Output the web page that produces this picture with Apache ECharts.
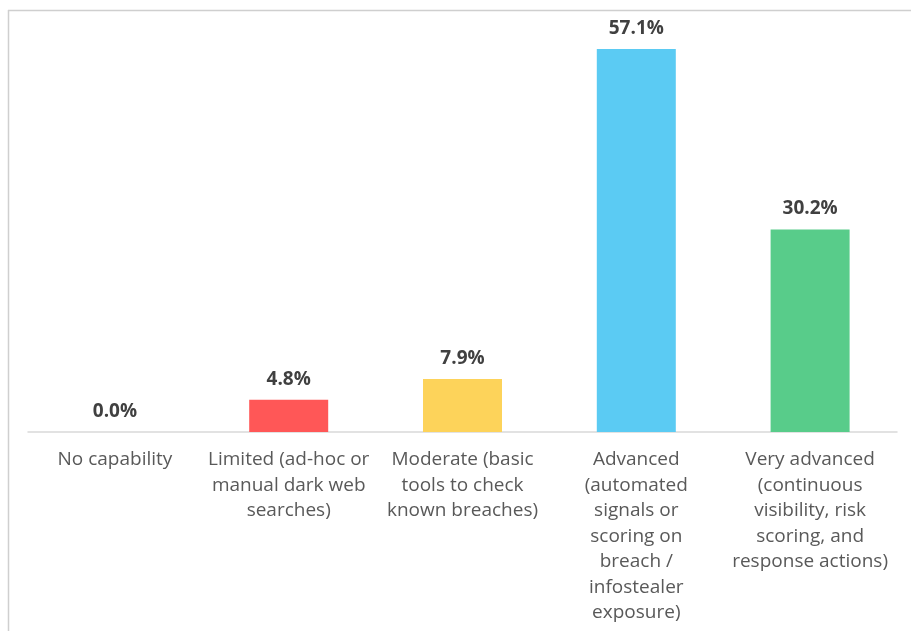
<!DOCTYPE html>
<html>
<head>
<meta charset="utf-8">
<script src="https://cdn.jsdelivr.net/npm/echarts@6/dist/echarts.min.js"></script>
<style>
  html, body { margin: 0; padding: 0; background: #fff; }
  #chart { width: 911px; height: 631px; }
</style>
</head>
<body>
<div id="chart"></div>
<script>
// Dark web monitoring capability levels and share of respondents (%)
const categories = [
  'No capability',
  'Limited (ad-hoc or\nmanual dark web\nsearches)',
  'Moderate (basic\ntools to check\nknown breaches)',
  'Advanced\n(automated\nsignals or\nscoring on\nbreach /\ninfostealer\nexposure)',
  'Very advanced\n(continuous\nvisibility, risk\nscoring, and\nresponse actions)'
];
const values = [0.0, 4.8, 7.9, 57.1, 30.2];
const barColors = ['#9e9e9e', '#FF5757', '#FDD35A', '#5BCBF3', '#58CC8A'];

const chart = echarts.init(document.getElementById('chart'));
chart.setOption({
  animation: false,
  backgroundColor: '#fff',
  graphic: [
    { type: 'line', shape: { x1: 8, y1: 10.5, x2: 911, y2: 10.5 }, style: { stroke: '#cfcfcf', lineWidth: 1.5 } },
    { type: 'line', shape: { x1: 8.5, y1: 10, x2: 8.5, y2: 631 }, style: { stroke: '#cfcfcf', lineWidth: 1.5 } }
  ],
  grid: { left: 28, right: 14, top: 29.5, bottom: 199, containLabel: false },
  xAxis: {
    type: 'category',
    data: categories,
    axisLine: { lineStyle: { color: '#d9d9d9', width: 1.5 } },
    axisTick: { show: false },
    axisLabel: {
      interval: 0,
      color: '#595959',
      fontFamily: 'Open Sans',
      fontSize: 19,
      lineHeight: 25.5,
      margin: 15,
      verticalAlign: 'top'
    }
  },
  yAxis: {
    type: 'value',
    min: 0,
    max: 60,
    show: false,
    splitLine: { show: false }
  },
  series: [{
    type: 'bar',
    data: values.map((v, i) => ({ value: v, itemStyle: { color: barColors[i] } })),
    barWidth: 79,
    label: {
      show: true,
      position: 'top',
      distance: 11,
      formatter: p => p.value.toFixed(1) + '%',
      color: '#404040',
      fontFamily: 'Open Sans',
      fontWeight: 'bold',
      fontSize: 19
    }
  }]
});
</script>
</body>
</html>
